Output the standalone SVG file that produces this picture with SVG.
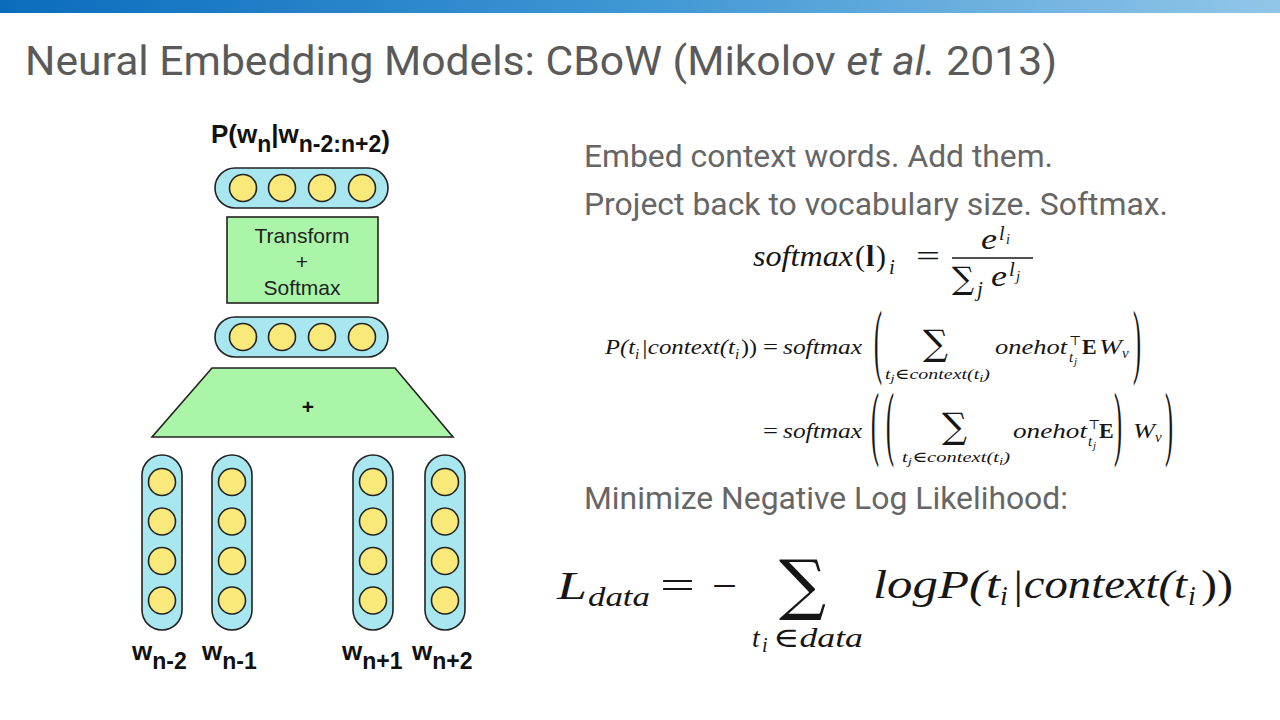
<svg xmlns="http://www.w3.org/2000/svg" width="1280" height="720" viewBox="0 0 1280 720">
<defs>
  <linearGradient id="bar" x1="0" y1="0" x2="1" y2="0">
    <stop offset="0" stop-color="#0b6cbd"/>
    <stop offset="0.5" stop-color="#3f97d4"/>
    <stop offset="1" stop-color="#92c6e8"/>
  </linearGradient>
  <style>
    .pill{fill:#a9e7f0;stroke:#222;stroke-width:1.6}
    .neuron{fill:#f9e97a;stroke:#222;stroke-width:1.6}
    .box{fill:#aaf5a8;stroke:#222;stroke-width:1.6}
    .lbl{font-family:"Liberation Sans",Arial,sans-serif;font-weight:bold;font-size:26px;fill:#111}
    .sub{font-size:23px}
    .boxtxt{font-family:"Liberation Sans",Arial,sans-serif;font-size:21px;fill:#222;text-anchor:middle}
    .title{font-family:Roboto,"Liberation Sans",sans-serif;font-size:41px;fill:#5a5a5a}
    .body{font-family:Roboto,"Liberation Sans",sans-serif;font-size:31px;fill:#666}
    .m{font-family:"Liberation Serif","DejaVu Serif",serif;font-style:italic;fill:#161616}
    .u{font-family:"Liberation Serif","DejaVu Serif",serif;font-style:normal;fill:#161616}
    .sym{font-family:"DejaVu Serif",serif;font-style:normal;fill:#161616}
  </style>
</defs>
<rect width="1280" height="720" fill="#ffffff"/>
<rect x="0" y="0" width="1280" height="13" fill="url(#bar)"/>

<g id="title">
  <text class="title" x="25" y="75" textLength="1032" lengthAdjust="spacingAndGlyphs">Neural Embedding Models: CBoW (Mikolov <tspan font-style="italic">et al.</tspan> 2013)</text>
</g>

<g id="connectors"></g>

<g id="output-label">
  <text class="lbl" x="211" y="143">P(w<tspan class="sub" dy="9">n</tspan><tspan dy="-9">|w</tspan><tspan class="sub" dy="9">n-2:n+2</tspan><tspan dy="-3">)</tspan></text>
</g>

<g id="output-layer">
  <rect class="pill" x="215" y="168" width="173" height="40" rx="20"/>
  <circle class="neuron" cx="243" cy="188" r="13.5"/>
  <circle class="neuron" cx="282" cy="188" r="13.5"/>
  <circle class="neuron" cx="322" cy="188" r="13.5"/>
  <circle class="neuron" cx="362" cy="188" r="13.5"/>
</g>

<g id="transform-softmax">
  <rect class="box" x="227" y="217" width="151" height="86"/>
  <text class="boxtxt" x="302" y="243">Transform</text>
  <text class="boxtxt" x="302" y="269">+</text>
  <text class="boxtxt" x="302" y="295">Softmax</text>
</g>

<g id="hidden-layer">
  <rect class="pill" x="215" y="317" width="173" height="40" rx="20"/>
  <circle class="neuron" cx="243" cy="337" r="13.5"/>
  <circle class="neuron" cx="282" cy="337" r="13.5"/>
  <circle class="neuron" cx="322" cy="337" r="13.5"/>
  <circle class="neuron" cx="362" cy="337" r="13.5"/>
</g>

<g id="sum">
  <polygon class="box" points="212,368 395,368 453,437 152,437"/>
  <text x="308" y="414" font-family="Liberation Sans, Arial, sans-serif" font-weight="bold" font-size="21" fill="#111" text-anchor="middle">+</text>
</g>

<g id="input-wn-2">
  <rect class="pill" x="142" y="455" width="40" height="175" rx="20"/>
  <circle class="neuron" cx="162" cy="482" r="13.5"/>
  <circle class="neuron" cx="162" cy="521.5" r="13.5"/>
  <circle class="neuron" cx="162" cy="561" r="13.5"/>
  <circle class="neuron" cx="162" cy="600.5" r="13.5"/>
  <text class="lbl" x="132" y="660">w<tspan class="sub" dy="9">n-2</tspan></text>
</g>
<g id="input-wn-1">
  <rect class="pill" x="212" y="455" width="40" height="175" rx="20"/>
  <circle class="neuron" cx="232" cy="482" r="13.5"/>
  <circle class="neuron" cx="232" cy="521.5" r="13.5"/>
  <circle class="neuron" cx="232" cy="561" r="13.5"/>
  <circle class="neuron" cx="232" cy="600.5" r="13.5"/>
  <text class="lbl" x="202" y="660">w<tspan class="sub" dy="9">n-1</tspan></text>
</g>
<g id="input-wn+1">
  <rect class="pill" x="353" y="455" width="40" height="175" rx="20"/>
  <circle class="neuron" cx="373" cy="482" r="13.5"/>
  <circle class="neuron" cx="373" cy="521.5" r="13.5"/>
  <circle class="neuron" cx="373" cy="561" r="13.5"/>
  <circle class="neuron" cx="373" cy="600.5" r="13.5"/>
  <text class="lbl" x="342" y="660">w<tspan class="sub" dy="9">n+1</tspan></text>
</g>
<g id="input-wn+2">
  <rect class="pill" x="425" y="455" width="40" height="175" rx="20"/>
  <circle class="neuron" cx="445" cy="482" r="13.5"/>
  <circle class="neuron" cx="445" cy="521.5" r="13.5"/>
  <circle class="neuron" cx="445" cy="561" r="13.5"/>
  <circle class="neuron" cx="445" cy="600.5" r="13.5"/>
  <text class="lbl" x="412" y="660">w<tspan class="sub" dy="9">n+2</tspan></text>
</g>

<g id="text">
  <text class="body" x="584" y="167" textLength="469" lengthAdjust="spacingAndGlyphs">Embed context words. Add them.</text>
  <text class="body" x="584" y="215" textLength="584" lengthAdjust="spacingAndGlyphs">Project back to vocabulary size. Softmax.</text>
  <text class="body" x="584" y="509" textLength="484" lengthAdjust="spacingAndGlyphs">Minimize Negative Log Likelihood:</text>
</g>

<g id="eq-softmax">
  <text class="m" x="753" y="266" font-size="30" textLength="100" lengthAdjust="spacingAndGlyphs">softmax</text>
  <text class="u" x="855" y="266" font-size="30">(</text>
  <text class="u" x="866" y="266" font-size="30" font-weight="bold">l</text>
  <text class="u" x="876" y="266" font-size="30">)</text>
  <text class="m" x="889" y="274" font-size="21">i</text>
  <text class="u" x="916" y="266" font-size="30" textLength="24" lengthAdjust="spacingAndGlyphs">=</text>
  <line x1="952" y1="258" x2="1033" y2="258" stroke="#161616" stroke-width="1.3"/>
  <text class="m" x="981" y="249" font-size="30" textLength="16" lengthAdjust="spacingAndGlyphs">e</text>
  <text class="m" x="999" y="240" font-size="20">l</text>
  <text class="m" x="1006" y="244" font-size="14">i</text>
  <text class="sym" x="952" y="289" font-size="31">∑</text>
  <text class="m" x="977" y="296" font-size="21">j</text>
  <text class="m" x="991" y="286" font-size="30" textLength="16" lengthAdjust="spacingAndGlyphs">e</text>
  <text class="m" x="1009" y="276" font-size="21">l</text>
  <text class="m" x="1016" y="281" font-size="15">j</text>
</g>

<g id="eq-context">
  <text class="m" x="605" y="354" font-size="22" textLength="30" lengthAdjust="spacingAndGlyphs">P(t</text>
  <text class="m" x="635" y="359" font-size="15">i</text>
  <text class="m" x="641" y="354" font-size="22" textLength="94" lengthAdjust="spacingAndGlyphs">|context(t</text>
  <text class="m" x="735" y="359" font-size="15">i</text>
  <text class="u" x="741" y="354" font-size="22" textLength="16" lengthAdjust="spacingAndGlyphs">))</text>
  <text class="u" x="763" y="354" font-size="22" textLength="15" lengthAdjust="spacingAndGlyphs">=</text>
  <text class="m" x="783" y="354" font-size="22" textLength="79" lengthAdjust="spacingAndGlyphs">softmax</text>
  <text class="u" font-size="24" transform="translate(874,367.5) scale(1,3.4)">(</text>
  <text class="sym" x="923" y="355" font-size="35">∑</text>
  <text class="m" x="885" y="379" font-size="15" textLength="105" lengthAdjust="spacingAndGlyphs">t<tspan font-size="11" dy="3">j</tspan><tspan dy="-3">∈context(t</tspan><tspan font-size="11" dy="3">i</tspan><tspan dy="-3">)</tspan></text>
  <text class="m" x="995" y="354" font-size="22" textLength="72" lengthAdjust="spacingAndGlyphs">onehot</text>
  <text class="sym" x="1069" y="345" font-size="13">⊤</text>
  <text class="m" x="1069" y="362" font-size="15">t</text>
  <text class="m" x="1074" y="365" font-size="11">j</text>
  <text class="u" x="1082" y="354" font-size="22" font-weight="bold">E</text>
  <text class="m" x="1099" y="354" font-size="22" textLength="23" lengthAdjust="spacingAndGlyphs">W</text>
  <text class="m" x="1122" y="358" font-size="15">v</text>
  <text class="u" font-size="24" transform="translate(1133,367.5) scale(1,3.4)">)</text>

  <text class="u" x="763" y="438" font-size="22" textLength="15" lengthAdjust="spacingAndGlyphs">=</text>
  <text class="m" x="783" y="438" font-size="22" textLength="79" lengthAdjust="spacingAndGlyphs">softmax</text>
  <text class="u" font-size="24" transform="translate(871,449.5) scale(1,3.4)">(</text>
  <text class="u" font-size="24" transform="translate(886,449.5) scale(1,3.4)">(</text>
  <text class="sym" x="942" y="438" font-size="35">∑</text>
  <text class="m" x="902" y="462" font-size="15" textLength="108" lengthAdjust="spacingAndGlyphs">t<tspan font-size="11" dy="3">j</tspan><tspan dy="-3">∈context(t</tspan><tspan font-size="11" dy="3">i</tspan><tspan dy="-3">)</tspan></text>
  <text class="m" x="1013" y="438" font-size="22" textLength="74" lengthAdjust="spacingAndGlyphs">onehot</text>
  <text class="sym" x="1088" y="429" font-size="13">⊤</text>
  <text class="m" x="1088" y="446" font-size="15">t</text>
  <text class="m" x="1093" y="449" font-size="11">j</text>
  <text class="u" x="1099" y="438" font-size="22" font-weight="bold">E</text>
  <text class="u" font-size="24" transform="translate(1114,449.5) scale(1,3.4)">)</text>
  <text class="m" x="1133" y="438" font-size="22" textLength="22" lengthAdjust="spacingAndGlyphs">W</text>
  <text class="m" x="1155" y="442" font-size="15">v</text>
  <text class="u" font-size="24" transform="translate(1165,449.5) scale(1,3.4)">)</text>
</g>

<g id="eq-loss">
  <text class="m" x="557" y="599" font-size="40" textLength="30" lengthAdjust="spacingAndGlyphs">L</text>
  <text class="m" x="588" y="606" font-size="28" textLength="62" lengthAdjust="spacingAndGlyphs">data</text>
  <text class="u" x="660" y="599" font-size="40" textLength="35" lengthAdjust="spacingAndGlyphs">=</text>
  <text class="u" x="712" y="599" font-size="40" textLength="25" lengthAdjust="spacingAndGlyphs">−</text>
  <text class="sym" x="779" y="607" font-size="66">∑</text>
  <text class="m" x="752" y="647" font-size="28">t</text>
  <text class="m" x="762" y="652" font-size="20">i</text>
  <text class="m" x="773" y="647" font-size="28" textLength="90" lengthAdjust="spacingAndGlyphs">∈data</text>
  <text class="m" x="873" y="598" font-size="40" textLength="127" lengthAdjust="spacingAndGlyphs">logP(t</text>
  <text class="m" x="1000" y="605" font-size="28">i</text>
  <text class="m" x="1011" y="598" font-size="40" textLength="176" lengthAdjust="spacingAndGlyphs">|context(t</text>
  <text class="m" x="1188" y="605" font-size="28">i</text>
  <text class="u" x="1201" y="598" font-size="40" textLength="32" lengthAdjust="spacingAndGlyphs">))</text>
</g>
</svg>
